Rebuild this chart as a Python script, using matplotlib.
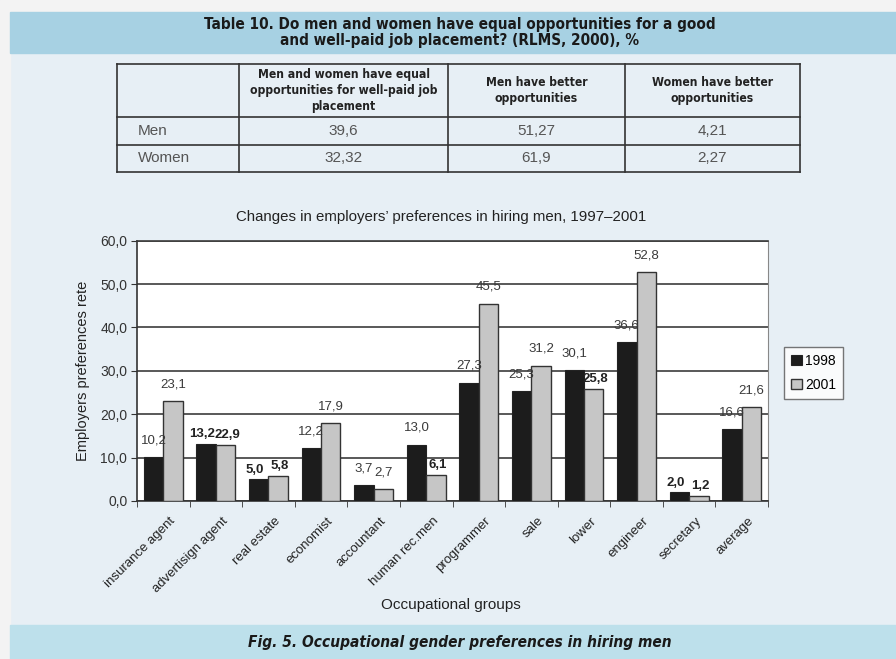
import matplotlib
matplotlib.use('agg')
import matplotlib.pyplot as plt
import matplotlib.transforms as mtransforms
from matplotlib import font_manager
import numpy as np

# ---- data ----
groups = ['insurance agent', 'advertisign agent', 'real estate', 'economist',
          'accountant', 'human rec.men', 'programmer', 'sale', 'lower',
          'engineer', 'secretary', 'average']
v1998 = [10.2, 13.2, 5.0, 12.2, 3.7, 13.0, 27.3, 25.3, 30.1, 36.6, 2.0, 16.6]
v2001 = [23.1, 12.9, 5.8, 17.9, 2.7, 6.1, 45.5, 31.2, 25.8, 52.8, 1.2, 21.6]
lab1998 = ['10,2', '13,2', '5,0', '12,2', '3,7', '13,0', '27,3', '25,3', '30,1', '36,6', '2,0', '16,6']
lab2001 = ['23,1', '22,9', '5,8', '17,9', '2,7', '6,1', '45,5', '31,2', '25,8', '52,8', '1,2', '21,6']
yticks = [0, 10, 20, 30, 40, 50, 60]

table_header = ['Men and women have equal\nopportunities for well-paid job\nplacement',
                'Men have better\nopportunities',
                'Women have better\nopportunities']
table_rows = ['Men', 'Women']
table_vals = [['39,6', '51,27', '4,21'],
              ['32,32', '61,9', '2,27']]

# ---- fonts ----
names = {f.name for f in font_manager.fontManager.ttflist}
if 'Liberation Sans Narrow' in names:
    cond = dict(family='Liberation Sans Narrow', weight='bold')
else:
    cond = dict(family='DejaVu Sans', stretch='condensed', weight='bold')
plt.rcParams['font.family'] = ['Liberation Sans', 'DejaVu Sans']

W, H = 896, 659
fig = plt.figure(figsize=(W / 100, H / 100), dpi=100)
fig.patch.set_facecolor('#e7eff5')

# background layer in pixel coords
bg = fig.add_axes([0, 0, 1, 1], zorder=0)
bg.set_xlim(0, W)
bg.set_ylim(H, 0)
bg.axis('off')
bg.add_patch(plt.Rectangle((0, 0), W, 12, color='#f3f3f3'))
bg.add_patch(plt.Rectangle((0, 0), 10, H, color='#f3f3f3'))
bg.add_patch(plt.Rectangle((10, 12), W, 41, color='#a7d1e3'))
bg.add_patch(plt.Rectangle((10, 625), W, 40, color='#bde0eb'))

bg.text(460, 25, 'Table 10. Do men and women have equal opportunities for a good',
        ha='center', va='center', fontsize=11, color='#1a1a1a', **cond)
bg.text(460, 41, 'and well-paid job placement? (RLMS, 2000), %',
        ha='center', va='center', fontsize=11, color='#1a1a1a', **cond)

# table
col_x = [117, 239, 448, 625, 800]
row_y = [64, 117, 145, 172]
for xx in col_x:
    bg.plot([xx, xx], [row_y[0], row_y[-1]], color='#333333', lw=1.2)
for yy in row_y:
    bg.plot([col_x[0], col_x[-1]], [yy, yy], color='#333333', lw=1.2)
for j, h in enumerate(table_header):
    bg.text((col_x[j + 1] + col_x[j + 2]) / 2, (row_y[0] + row_y[1]) / 2, h,
            ha='center', va='center', fontsize=8.7, color='#222222',
            linespacing=1.3, **cond)
for i, r in enumerate(table_rows):
    yc = (row_y[i + 1] + row_y[i + 2]) / 2
    bg.text(col_x[0] + 21, yc, r, ha='left', va='center', fontsize=11, color='#555555')
    for j, v in enumerate(table_vals[i]):
        bg.text((col_x[j + 1] + col_x[j + 2]) / 2, yc, v, ha='center', va='center',
                fontsize=11, color='#555555')

bg.text(441, 217, 'Changes in employers\u2019 preferences in hiring men, 1997\u20132001',
        ha='center', va='center', fontsize=10.8, color='#222222')
bg.text(451, 605, 'Occupational groups', ha='center', va='center', fontsize=11, color='#222222')
bg.text(460, 643, 'Fig. 5. Occupational gender preferences in hiring men',
        ha='center', va='center', fontsize=11.1, color='#1a1a1a', style='italic', **cond)

# ---- chart ----
left, right, top, bottom = 137, 768, 240.7, 501
ax = fig.add_axes([left / W, 1 - bottom / H, (right - left) / W, (bottom - top) / H], zorder=2)
ax.set_facecolor('white')
x = np.arange(len(groups))
bw = 0.37
ax.bar(x - bw / 2, v1998, bw, color='#1c1c1c', edgecolor='#222222', lw=0.8, label='1998', zorder=3)
ax.bar(x + bw / 2, v2001, bw, color='#c6c6c6', edgecolor='#333333', lw=1.0, label='2001', zorder=3)

# labels that sit lower and look heavier in the original
bold1998 = {1, 2, 10}
bold2001 = {1, 2, 5, 8, 10}
for i in range(len(groups)):
    for xs, v, lab, bset, dx in ((x[i] - bw / 2, v1998[i], lab1998[i], bold1998, -3),
                                (x[i] + bw / 2, v2001[i], lab2001[i], bold2001, 1)):
        b = i in bset
        ax.annotate(lab, (xs, v), xytext=(dx if b else 0, 7 if b else 12),
                    textcoords='offset points', ha='center', va='center', fontsize=9.5,
                    color='#222222' if b else '#3a3a3a',
                    fontweight='bold' if b else 'normal', zorder=4)

ax.set_xlim(-0.5, len(groups) - 0.5)
ax.set_ylim(0, 60)
ax.set_yticks(yticks)
ax.set_yticklabels(['%d,0' % t for t in yticks], fontsize=10, color='#333333')
ax.yaxis.grid(True, color='#3c3c3c', lw=1.2, zorder=1)
ax.set_axisbelow(True)
ax.tick_params(axis='y', length=4, color='#333333', pad=3)

ax.set_xticks(x)
ax.set_xticklabels(groups, rotation=45, ha='right', rotation_mode='anchor',
                   fontsize=9.5, color='#222222')
ax.set_xticks(np.arange(len(groups) + 1) - 0.5, minor=True)
ax.tick_params(axis='x', which='major', length=0, pad=10)
ax.tick_params(axis='x', which='minor', length=4, color='#333333')
off = mtransforms.ScaledTranslation(6 / 100, 0, fig.dpi_scale_trans)
for t in ax.get_xticklabels():
    t.set_transform(t.get_transform() + off)

for s in ('left', 'bottom'):
    ax.spines[s].set_color('#333333')
    ax.spines[s].set_linewidth(1.2)
ax.spines['right'].set_color('#888888')
ax.spines['top'].set_color('#3c3c3c')
ax.spines['top'].set_linewidth(1.2)

ax.set_ylabel('Employers preferences rete', fontsize=10.5, color='#222222')
ax.yaxis.set_label_coords((90 - left) / (right - left), 0.5)

leg = ax.legend(loc='upper left', bbox_to_anchor=(784 / W, 1 - 347 / H),
                bbox_transform=fig.transFigure, fontsize=10, frameon=True, fancybox=False,
                handlelength=0.8, handleheight=0.8, handletextpad=0.2,
                borderpad=0.5, labelspacing=0.7, borderaxespad=0)
leg.get_frame().set_edgecolor('#555555')
leg.get_frame().set_linewidth(1.0)

fig.savefig('out.png', dpi=100, facecolor=fig.get_facecolor())
